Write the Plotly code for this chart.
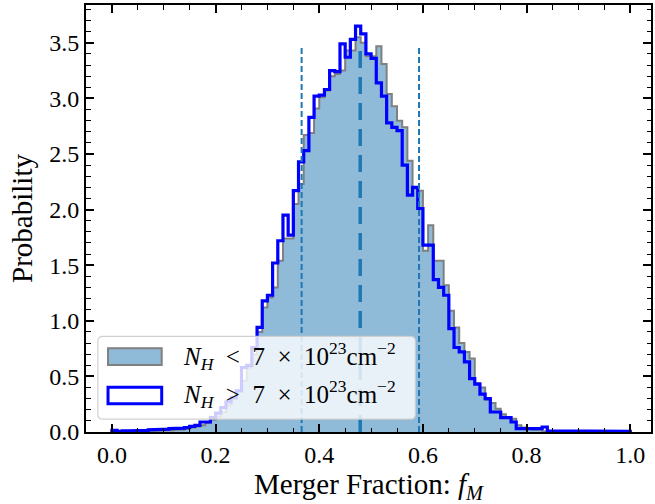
import numpy as np
import plotly.graph_objects as go

# histogram bins (left edges), width 0.01
bin_width = 0.01
bin_left = np.round(np.arange(0.0, 1.0, bin_width), 2)

# probability density, N_H < 7e23 (filled)
nh_low = [
    0.0, 0.0, 0.0, 0.0, 0.005, 0.005, 0.005, 0.01, 0.01, 0.01,
    0.01, 0.015, 0.02, 0.02, 0.03, 0.04, 0.05, 0.06, 0.08, 0.11,
    0.14, 0.18, 0.24, 0.30, 0.37, 0.46, 0.58, 0.70, 0.90, 1.12,
    1.21, 1.30, 1.54, 1.74, 1.74, 2.05, 2.23, 2.67, 2.69, 2.91,
    3.01, 3.07, 3.20, 3.22, 3.25, 3.43, 3.43, 3.55, 3.50, 3.38,
    3.38, 3.47, 3.31, 3.04, 2.93, 2.80, 2.74, 2.44, 2.19, 2.17,
    1.63, 1.86, 1.54, 1.54, 1.32, 1.09, 0.94, 0.80, 0.72, 0.66,
    0.44, 0.40, 0.29, 0.26, 0.21, 0.16, 0.13, 0.12, 0.06, 0.04,
    0.03, 0.02, 0.02, 0.01, 0.01, 0.005, 0.005, 0.0, 0.0, 0.0,
    0.0, 0.0, 0.0, 0.0, 0.0, 0.0, 0.0, 0.0, 0.0, 0.0,
]

# probability density, N_H > 7e23 (step outline)
nh_high = [
    0.015, 0.005, 0.01, 0.01, 0.01, 0.01, 0.015, 0.02, 0.02, 0.02,
    0.025, 0.03, 0.03, 0.035, 0.04, 0.05, 0.06, 0.09, 0.09, 0.13,
    0.17, 0.22, 0.27, 0.31, 0.37, 0.58, 0.60, 0.76, 0.94, 1.18,
    1.23, 1.52, 1.72, 1.95, 1.77, 2.17, 2.43, 2.53, 2.83, 3.02,
    3.03, 3.08, 3.25, 3.24, 3.49, 3.37, 3.53, 3.65, 3.58, 3.40,
    3.36, 3.14, 3.02, 2.78, 2.74, 2.71, 2.40, 2.13, 2.20, 2.01,
    1.68, 1.68, 1.37, 1.30, 1.23, 0.93, 0.76, 0.72, 0.63, 0.48,
    0.43, 0.34, 0.30, 0.18, 0.18, 0.13, 0.13, 0.09, 0.03, 0.03,
    0.03, 0.03, 0.03, 0.045, 0.01, 0.01, 0.01, 0.005, 0.005, 0.005,
    0.005, 0.005, 0.005, 0.005, 0.005, 0.005, 0.005, 0.005, 0.005, 0.005,
]

# 16th / 50th / 84th percentiles
q_lo, q_med, q_hi = 0.366, 0.479, 0.5925

label_low = ("<i>N</i><sub><i>H</i></sub>&nbsp; &lt; &nbsp;7 &nbsp;× &nbsp;"
             "10<sup>23</sup>cm<sup>−2</sup>")
label_high = ("<i>N</i><sub><i>H</i></sub>&nbsp; &gt; &nbsp;7 &nbsp;× &nbsp;"
              "10<sup>23</sup>cm<sup>−2</sup>")

FONT = "Liberation Serif"
C0 = "#1f77b4"


def step_outline(left, width, vals):
    xs, ys = [float(left[0])], [0.0]
    for l, v in zip(left, vals):
        xs += [float(l), float(l) + width]
        ys += [v, v]
    xs.append(float(left[-1]) + width)
    ys.append(0.0)
    return xs, ys


fig = go.Figure()

x_lo, y_lo = step_outline(bin_left, bin_width, nh_low)
fig.add_trace(go.Scatter(
    x=x_lo, y=y_lo, mode="lines", fill="tozeroy",
    fillcolor="rgba(31,119,180,0.5)",
    line=dict(color="gray", width=2),
    showlegend=False, hoverinfo="skip",
))

x_hi, y_hi = step_outline(bin_left, bin_width, nh_high)
fig.add_trace(go.Scatter(
    x=x_hi, y=y_hi, mode="lines",
    line=dict(color="blue", width=3.2),
    showlegend=False, hoverinfo="skip",
))

# percentile markers
for q, w, dash in [(q_lo, 2, "6px,3px"), (q_hi, 2, "6px,3px"), (q_med, 3.5, "17px,9px")]:
    fig.add_shape(type="line", xref="x", yref="paper", x0=q, x1=q, y0=0, y1=0.9,
                  line=dict(color=C0, width=w, dash=dash), layer="above")

# hand-drawn legend box (rounded)
bx0, bx1, by0, by1 = 0.021, 0.583, 0.030, 0.224
rx, ry = 5 / 568, 5 / 427
path = (f"M {bx0+rx},{by0} L {bx1-rx},{by0} Q {bx1},{by0} {bx1},{by0+ry} "
        f"L {bx1},{by1-ry} Q {bx1},{by1} {bx1-rx},{by1} "
        f"L {bx0+rx},{by1} Q {bx0},{by1} {bx0},{by1-ry} "
        f"L {bx0},{by0+ry} Q {bx0},{by0} {bx0+rx},{by0} Z")
fig.add_shape(type="path", path=path, xref="paper", yref="paper",
              fillcolor="rgba(255,255,255,0.8)",
              line=dict(color="rgba(204,204,204,0.9)", width=1.2), layer="above")
fig.add_shape(type="rect", xref="paper", yref="paper",
              x0=0.039, x1=0.134, y0=0.157, y1=0.196,
              fillcolor="rgba(31,119,180,0.5)", line=dict(color="gray", width=2),
              layer="above")
fig.add_shape(type="rect", xref="paper", yref="paper",
              x0=0.039, x1=0.134, y0=0.066, y1=0.105,
              fillcolor="white", line=dict(color="blue", width=3), layer="above")
for ytxt, txt in [(0.178, label_low), (0.088, label_high)]:
    fig.add_annotation(x=0.169, y=ytxt, xref="paper", yref="paper", text=txt,
                       showarrow=False, xanchor="left", yanchor="middle",
                       font=dict(family=FONT, size=25, color="black"))

axis_common = dict(
    showline=True, linecolor="black", linewidth=2, mirror="allticks",
    ticks="inside", ticklen=8, tickwidth=1.5, tickcolor="black",
    showgrid=False, zeroline=False,
    tickfont=dict(family=FONT, size=24, color="black"),
)

fig.update_xaxes(
    range=[-0.05, 1.04], tick0=0, dtick=0.2, tickformat=".1f",
    minor=dict(dtick=0.05, ticks="inside", ticklen=4.5, tickwidth=1.2, tickcolor="black"),
    title=dict(text="Merger Fraction: <i>f</i><sub><i>M</i></sub>",
               font=dict(family=FONT, size=29, color="black"), standoff=4),
    **axis_common,
)
fig.update_yaxes(
    range=[0, 3.84], tick0=0, dtick=0.5, tickformat=".1f",
    minor=dict(dtick=0.1, ticks="inside", ticklen=4.5, tickwidth=1.2, tickcolor="black"),
    title=dict(text="Probability", font=dict(family=FONT, size=29, color="black"), standoff=8),
    **axis_common,
)

fig.update_layout(
    width=655, height=504,
    margin=dict(l=86, r=2, t=5, b=72),
    plot_bgcolor="white", paper_bgcolor="white",
    showlegend=False,
)

# the page's default body margin would push the figure 8px off
fig.write_html("out.html", config={"displayModeBar": False},
               post_script="document.body.style.margin='0';")
